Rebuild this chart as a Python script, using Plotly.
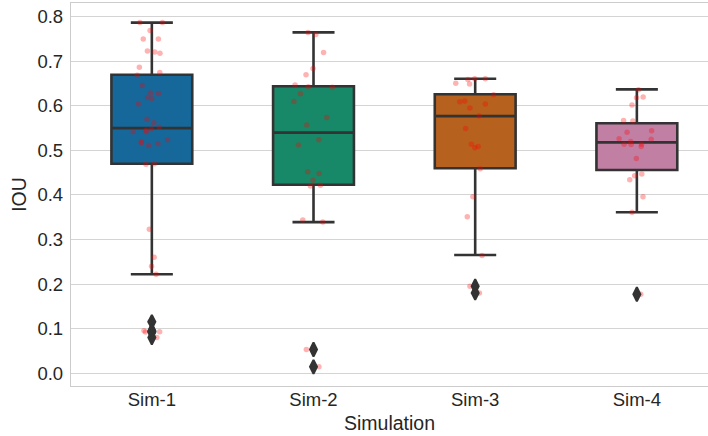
import plotly.graph_objects as go

categories = ["Sim-1", "Sim-2", "Sim-3", "Sim-4"]

# box statistics
q1 = [0.470, 0.423, 0.460, 0.456]
median = [0.550, 0.540, 0.577, 0.518]
q3 = [0.670, 0.644, 0.626, 0.561]
lowerfence = [0.222, 0.339, 0.265, 0.361]
upperfence = [0.787, 0.765, 0.661, 0.637]

# outliers (diamonds)
outliers_sim1 = [0.115, 0.095, 0.093, 0.092, 0.080]
outliers_sim2 = [0.053, 0.014]
outliers_sim3 = [0.195, 0.180]
outliers_sim4 = [0.177]

# individual observations (strip points)
values_sim1 = [0.787, 0.787, 0.769, 0.750, 0.750, 0.723, 0.721, 0.718, 0.687, 0.675,
               0.669, 0.646, 0.628, 0.629, 0.619, 0.616, 0.604, 0.570, 0.562, 0.552,
               0.548, 0.545, 0.542, 0.542, 0.524, 0.518, 0.515, 0.519, 0.511, 0.470,
               0.469, 0.323, 0.260, 0.240, 0.222, 0.115, 0.095, 0.093, 0.092, 0.080]
values_sim2 = [0.765, 0.760, 0.720, 0.684, 0.670, 0.647, 0.642, 0.643, 0.627, 0.610,
               0.574, 0.557, 0.524, 0.512, 0.452, 0.448, 0.433, 0.420, 0.422, 0.344,
               0.339, 0.053, 0.014]
values_sim3 = [0.659, 0.661, 0.661, 0.651, 0.649, 0.625, 0.611, 0.609, 0.604, 0.595,
               0.577, 0.549, 0.514, 0.509, 0.506, 0.459, 0.396, 0.351, 0.264, 0.195,
               0.180]
values_sim4 = [0.636, 0.620, 0.618, 0.602, 0.567, 0.566, 0.544, 0.541, 0.526, 0.525,
               0.520, 0.513, 0.514, 0.514, 0.509, 0.482, 0.447, 0.443, 0.434, 0.396,
               0.361, 0.177]

box_colors = ["rgb(22,104,154)", "rgb(23,137,104)", "rgb(182,97,30)", "rgb(194,127,164)"]
y_ticks = [0.0, 0.1, 0.2, 0.3, 0.4, 0.5, 0.6, 0.7, 0.8]

outliers = [outliers_sim1, outliers_sim2, outliers_sim3, outliers_sim4]
values = [values_sim1, values_sim2, values_sim3, values_sim4]

EDGE = "#333333"
FONT = "Liberation Sans, Arial, sans-serif"

fig = go.Figure()

for i, cat in enumerate(categories):
    fig.add_trace(go.Box(
        x=[cat], q1=[q1[i]], median=[median[i]], q3=[q3[i]],
        lowerfence=[lowerfence[i]], upperfence=[upperfence[i]],
        width=0.5, whiskerwidth=0.52,
        fillcolor=box_colors[i],
        line=dict(color=EDGE, width=2.6),
        boxpoints=False, showlegend=False, hoverinfo="skip",
    ))

for i, cat in enumerate(categories):
    fig.add_trace(go.Scatter(
        x=[cat] * len(outliers[i]), y=outliers[i], mode="markers",
        marker=dict(symbol="diamond-tall", size=10, color=EDGE,
                    line=dict(color=EDGE, width=2)),
        showlegend=False, hoverinfo="skip",
    ))

for i, cat in enumerate(categories):
    fig.add_trace(go.Box(
        x=[cat] * len(values[i]), y=values[i],
        boxpoints="all", jitter=1.0, pointpos=0, width=0.28,
        fillcolor="rgba(0,0,0,0)",
        line=dict(color="rgba(0,0,0,0)", width=0),
        marker=dict(color="rgba(255,0,0,0.3)", size=5.5, line=dict(width=0)),
        showlegend=False, hoverinfo="skip",
    ))

fig.update_layout(
    width=708, height=436,
    margin=dict(l=71, r=0, t=3, b=50),
    paper_bgcolor="white", plot_bgcolor="white",
    font=dict(family=FONT, size=18.5, color="#262626"),
    boxmode="overlay",
    showlegend=False,
)

fig.update_xaxes(
    type="category", categoryorder="array", categoryarray=categories,
    range=[-0.5, 3.44],
    showgrid=False, zeroline=False,
    showline=True, linecolor="#cccccc", linewidth=1.3, mirror=True,
    ticks="", ticklabelstandoff=-3,
    title=dict(text="Simulation", standoff=7, font=dict(size=19.5)),
    tickfont=dict(size=18.5),
)

fig.update_yaxes(
    range=[-0.029, 0.831],
    tickvals=y_ticks, ticktext=[f"{v:.1f}" for v in y_ticks],
    showgrid=True, gridcolor="#d4d4d4", gridwidth=1,
    zeroline=False,
    showline=True, linecolor="#cccccc", linewidth=1.3,
    ticks="", ticklabelstandoff=3,
    title=dict(text="IOU", standoff=5, font=dict(size=19.5)),
    tickfont=dict(size=18.5),
)

fig.write_html(
    "out.html",
    config={"displayModeBar": False},
    post_script="document.body.style.margin='0';document.body.style.overflow='hidden';",
)
